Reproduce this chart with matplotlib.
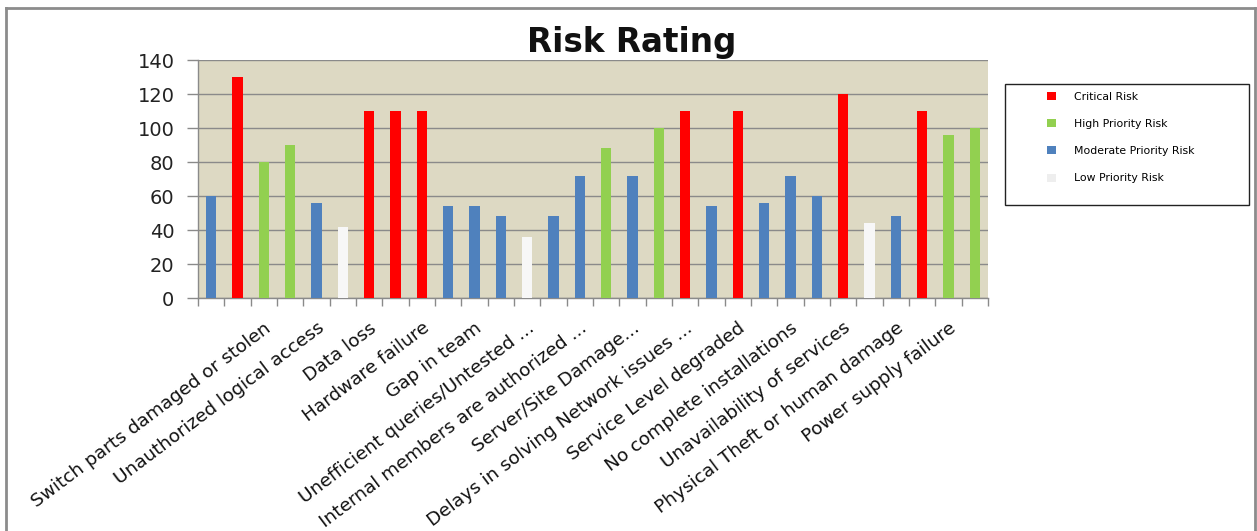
import matplotlib
matplotlib.use("Agg")
import matplotlib.pyplot as plt
from matplotlib.patches import Patch, Rectangle
from matplotlib.lines import Line2D
from matplotlib.ticker import FixedLocator, NullFormatter

# Risk scores per item, left to right
scores = [60, 130, 80, 90, 56, 42, 110, 110, 110, 54,
          54, 48, 36, 48, 72, 88, 72, 100, 110, 54,
          110, 56, 72, 60, 120, 44, 48, 110, 96, 100]
levels = ["Moderate", "Critical", "High", "High", "Moderate", "Low", "Critical", "Critical", "Critical", "Moderate",
          "Moderate", "Moderate", "Low", "Moderate", "Moderate", "High", "Moderate", "High", "Critical", "Moderate",
          "Critical", "Moderate", "Moderate", "Moderate", "Critical", "Low", "Moderate", "Critical", "High", "High"]

# Axis labels, shown on every second item starting with the third
tick_labels = ["Switch parts damaged or stolen", "Unauthorized logical access", "Data loss",
               "Hardware failure", "Gap in team", "Unefficient queries/Untested ...",
               "Internal members are authorized ...", "Server/Site Damage...",
               "Delays in solving Network issues ...", "Service Level degraded",
               "No complete installations", "Unavailability of services",
               "Physical Theft or human damage", "Power supply failure"]

level_names = ["Critical", "High", "Moderate", "Low"]
legend_labels = ["Critical Risk", "High Priority Risk", "Moderate Priority Risk", "Low Priority Risk"]
level_colors = {"Critical": "#FF0000", "High": "#92D050", "Moderate": "#4F81BD", "Low": "#F7F7F7"}

plt.rcParams["font.family"] = ["DejaVu Sans"]

fig = plt.figure(figsize=(12.57, 5.31), dpi=100)
ax = fig.add_axes([198 / 1257, 1 - 298 / 531, 790 / 1257, 238 / 531])
ax.set_facecolor("#DDD9C3")

x = list(range(len(scores)))
ax.bar(x, scores, width=0.4, color=[level_colors[l] for l in levels], zorder=3)

ax.set_xlim(-0.5, len(scores) - 0.5)
ax.set_ylim(0, 140)
ax.set_yticks(range(0, 141, 20))
ax.yaxis.grid(True, color="#8A8A8A", linewidth=1.0, zorder=1)
ax.tick_params(axis="y", direction="out", length=8, width=1, color="#8A8A8A",
               labelsize=14, labelcolor="#222222", pad=9)

label_pos = [2 + 2 * i for i in range(len(tick_labels))]
ax.set_xticks(label_pos)
ax.set_xticklabels(tick_labels, rotation=37, ha="right", rotation_mode="anchor",
                   fontsize=13.3, color="#111111")
ax.xaxis.set_minor_locator(FixedLocator([i - 0.5 for i in range(len(scores) + 1)]))
ax.xaxis.set_minor_formatter(NullFormatter())
ax.tick_params(axis="x", which="major", length=0, pad=15)
ax.tick_params(axis="x", which="minor", direction="out", length=6, width=1, color="#8A8A8A")

for side in ["top", "right"]:
    ax.spines[side].set_visible(False)
for side in ["left", "bottom"]:
    ax.spines[side].set_color("#8A8A8A")
    ax.spines[side].set_linewidth(1)

fig.text(632 / 1257, 1 - 52 / 531, "Risk Rating", ha="center", va="baseline",
         fontsize=23.5, fontweight="bold", color="#111111")

# legend box
fig.patches.append(Rectangle((1005 / 1257, 1 - 205 / 531), 244 / 1257, 121 / 531,
                             transform=fig.transFigure, fill=False,
                             edgecolor="#222222", linewidth=1))
handles = [Patch(facecolor=level_colors[n] if n != "Low" else "#EEEEEE", edgecolor="none")
           for n in level_names]
fig.legend(handles, legend_labels, loc="upper left",
           bbox_to_anchor=(1047 / 1257, 1 - 92 / 531), frameon=False,
           fontsize=7.8, handlelength=0.85, handleheight=0.75, handletextpad=1.6,
           labelspacing=1.58, borderpad=0, borderaxespad=0)

# outer frame
frame_kw = dict(transform=fig.transFigure, color="#8C8C8C", linewidth=2)
fig.lines.append(Line2D([6 / 1257, 6 / 1257], [0, 1 - 8 / 531], **frame_kw))
fig.lines.append(Line2D([6 / 1257, 1255 / 1257], [1 - 8 / 531, 1 - 8 / 531], **frame_kw))
fig.lines.append(Line2D([1255 / 1257, 1255 / 1257], [0, 1 - 8 / 531], **frame_kw))

fig.savefig("out.png", dpi=100, facecolor="white")
